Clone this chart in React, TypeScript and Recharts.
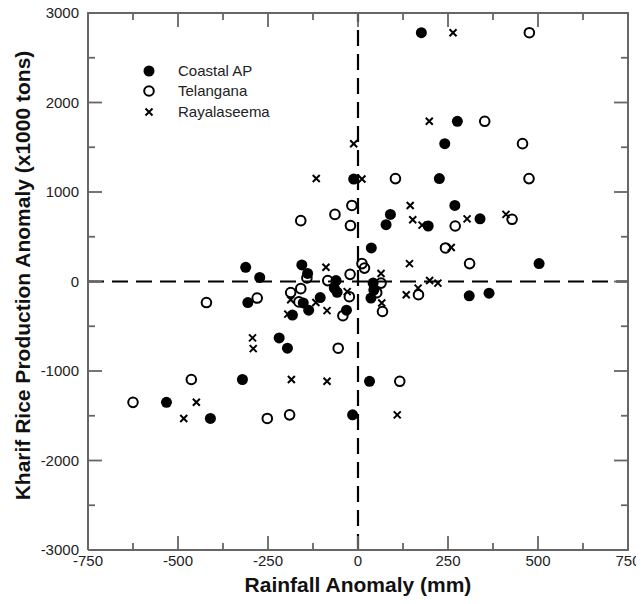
import React from 'react';
import { ScatterChart, Scatter, XAxis, YAxis, ReferenceLine, Legend } from 'recharts';

// [rainfall anomaly (mm), production anomaly (x1000 tons)]
const coastalAP = [
  [-12, 1145], [176, 2780], [276, 1790], [241, 1540], [226, 1150], [269, 850],
  [90, 750], [78, 635], [195, 620], [339, 700], [37, 375], [503, 200],
  [-312, 158], [-156, 185], [-140, 90], [-273, 45], [42, -18], [44, -95],
  [36, -185], [309, -160], [364, -130], [32, -1115], [-15, -1490], [-306, -235],
  [-152, -240], [-137, -320], [-182, -375], [-105, -180], [-61, 11], [-66, -74],
  [-58, -120], [-32, -320], [-219, -630], [-196, -745], [-321, -1095],
  [-532, -1350], [-410, -1530],
];
const telangana = [
  [476, 2780], [352, 1790], [457, 1540], [104, 1150], [475, 1150], [-159, 680],
  [-64, 750], [-17, 850], [-21, 625], [270, 620], [428, 695], [243, 375],
  [310, 200], [11, 200], [18, 150], [-22, 80], [-142, 40], [-84, 10],
  [64, -18], [52, -125], [68, -335], [168, -148], [-421, -235], [-280, -185],
  [-187, -123], [-159, -80], [-164, -228], [-24, -170], [-42, -382], [-55, -745],
  [116, -1115], [-463, -1095], [-625, -1350], [-252, -1530], [-190, -1490],
];
const rayalaseema = [
  [264, 2780], [198, 1790], [-12, 1540], [-116, 1150], [11, 1145], [145, 850],
  [152, 690], [178, 630], [303, 700], [411, 750], [259, 380], [143, 200],
  [-89, 160], [64, 90], [199, 11], [222, -18], [134, -148], [167, -74],
  [66, -241], [-30, -113], [-187, -204], [-117, -235], [-86, -325], [-195, -365],
  [-293, -630], [-291, -750], [-185, -1095], [-86, -1115], [109, -1490],
  [-449, -1350], [-484, -1530],
];

const xTicks = [-750, -625, -500, -375, -250, -125, 0, 125, 250, 375, 500, 625, 750];
const yTicks = [-3000, -2500, -2000, -1500, -1000, -500, 0, 500, 1000, 1500, 2000, 2500, 3000];
const X_DOMAIN = [-750, 750];
const Y_DOMAIN = [-3000, 3000];

const toPoints = (rows: number[][]) => rows.map(([x, y]) => ({ x, y }));

const FONT = '"Liberation Sans", Arial, sans-serif';
const FRAME = '#666666';
const MAJOR = 14;
const MINOR = 7;

const isMajorX = (v: number) => v % 250 === 0;
const isMajorY = (v: number) => v % 1000 === 0;

// positions of the inward tick marks on the four sides of the frame
const innerX = xTicks.slice(1, -1);
const innerY = yTicks.slice(1, -1);
const xMajor = innerX.filter(isMajorX);
const xMinor = innerX.filter((v) => !isMajorX(v));
const yMajor = innerY.filter(isMajorY);
const yMinor = innerY.filter((v) => !isMajorY(v));
const onBottom = (xs: number[]) => xs.map((x) => ({ x, y: Y_DOMAIN[0] }));
const onTop = (xs: number[]) => xs.map((x) => ({ x, y: Y_DOMAIN[1] }));
const onLeft = (ys: number[]) => ys.map((y) => ({ x: X_DOMAIN[0], y }));
const onRight = (ys: number[]) => ys.map((y) => ({ x: X_DOMAIN[1], y }));
const frameCorners = [
  { x: X_DOMAIN[0], y: Y_DOMAIN[0] },
  { x: X_DOMAIN[0], y: Y_DOMAIN[1] },
  { x: X_DOMAIN[1], y: Y_DOMAIN[1] },
  { x: X_DOMAIN[1], y: Y_DOMAIN[0] },
  { x: X_DOMAIN[0], y: Y_DOMAIN[0] },
];

const markStyle = { stroke: FRAME, strokeWidth: 1.8, fill: 'none' };
const UpMajor = ({ cx, cy }: any) => <path d={`M${cx},${cy}V${cy - MAJOR}`} {...markStyle} />;
const UpMinor = ({ cx, cy }: any) => <path d={`M${cx},${cy}V${cy - MINOR}`} {...markStyle} />;
const DownMajor = ({ cx, cy }: any) => <path d={`M${cx},${cy}V${cy + MAJOR}`} {...markStyle} />;
const DownMinor = ({ cx, cy }: any) => <path d={`M${cx},${cy}V${cy + MINOR}`} {...markStyle} />;
const RightMajor = ({ cx, cy }: any) => <path d={`M${cx},${cy}H${cx + MAJOR}`} {...markStyle} />;
const RightMinor = ({ cx, cy }: any) => <path d={`M${cx},${cy}H${cx + MINOR}`} {...markStyle} />;
const LeftMajor = ({ cx, cy }: any) => <path d={`M${cx},${cy}H${cx - MAJOR}`} {...markStyle} />;
const LeftMinor = ({ cx, cy }: any) => <path d={`M${cx},${cy}H${cx - MINOR}`} {...markStyle} />;
const NoDot = () => <g />;

const tickSeries = [
  { name: 'tick-bottom-major', data: onBottom(xMajor), shape: UpMajor },
  { name: 'tick-bottom-minor', data: onBottom(xMinor), shape: UpMinor },
  { name: 'tick-top-major', data: onTop(xMajor), shape: DownMajor },
  { name: 'tick-top-minor', data: onTop(xMinor), shape: DownMinor },
  { name: 'tick-left-major', data: onLeft(yMajor), shape: RightMajor },
  { name: 'tick-left-minor', data: onLeft(yMinor), shape: RightMinor },
  { name: 'tick-right-major', data: onRight(yMajor), shape: LeftMajor },
  { name: 'tick-right-minor', data: onRight(yMinor), shape: LeftMinor },
];

const BottomLabel = ({ x, y, payload }: any) =>
  isMajorX(payload.value) ? (
    <text x={x} y={y + 16} textAnchor="middle" fontSize={15} fontFamily={FONT} fill="#222">
      {payload.value}
    </text>
  ) : null;

const LeftLabel = ({ x, y, payload }: any) =>
  isMajorY(payload.value) ? (
    <text x={x - 9} y={y + 5} textAnchor="end" fontSize={15} fontFamily={FONT} fill="#222">
      {payload.value}
    </text>
  ) : null;

const FilledDot = ({ cx, cy }: any) => <circle cx={cx} cy={cy} r={5.5} fill="#000" />;
const OpenDot = ({ cx, cy }: any) => <circle cx={cx} cy={cy} r={4.8} fill="none" stroke="#000" strokeWidth={2} />;
const Cross = ({ cx, cy }: any) => (
  <path d={`M${cx - 3.5},${cy - 3.5}L${cx + 3.5},${cy + 3.5}M${cx - 3.5},${cy + 3.5}L${cx + 3.5},${cy - 3.5}`} stroke="#000" strokeWidth={2} />
);

const legendRows = [
  { name: 'Coastal AP', Shape: FilledDot, cy: 11 },
  { name: 'Telangana', Shape: OpenDot, cy: 31 },
  { name: 'Rayalaseema', Shape: Cross, cy: 52 },
];

const LegendBox = () => (
  <svg width={140} height={64}>
    {legendRows.map(({ name, Shape, cy }) => (
      <g key={name}>
        <Shape cx={8} cy={cy} />
        <text x={37} y={cy + 5} fontSize={15} fontFamily={FONT} fill="#222">
          {name}
        </text>
      </g>
    ))}
  </svg>
);

export default function App() {
  return (
    <div style={{ fontFamily: FONT, margin: '-8px 0 0 -8px' }}>
      <ScatterChart width={644} height={604} margin={{ top: 13, right: 16, bottom: 0, left: 0 }}>
        <XAxis
          type="number"
          dataKey="x"
          domain={X_DOMAIN}
          ticks={xTicks}
          interval={0}
          tickSize={0}
          tickMargin={0}
          height={54}
          axisLine={false}
          tickLine={false}
          tick={<BottomLabel />}
          label={{
            value: 'Rainfall Anomaly (mm)',
            position: 'insideBottom',
            offset: 12,
            style: { fontSize: 21, fontWeight: 'bold', fill: '#111', fontFamily: FONT },
          }}
        />
        <YAxis
          type="number"
          dataKey="y"
          domain={Y_DOMAIN}
          ticks={yTicks}
          interval={0}
          tickSize={0}
          tickMargin={0}
          width={88}
          axisLine={false}
          tickLine={false}
          tick={<LeftLabel />}
          label={({ viewBox }: any) => (
            <text
              x={22}
              y={viewBox.y + viewBox.height / 2 - 6}
              transform={`rotate(-90, 22, ${viewBox.y + viewBox.height / 2 - 6})`}
              textAnchor="middle"
              dominantBaseline="central"
              fontSize={21}
              fontWeight="bold"
              fontFamily={FONT}
              fill="#111"
            >
              Kharif Rice Production Anomaly (x1000 tons)
            </text>
          )}
        />
        <ReferenceLine x={X_DOMAIN[0]} stroke={FRAME} strokeWidth={1.8} />
        <ReferenceLine x={X_DOMAIN[1]} stroke={FRAME} strokeWidth={1.8} ifOverflow="visible" />
        <ReferenceLine y={Y_DOMAIN[0]} stroke={FRAME} strokeWidth={1.8} ifOverflow="visible" />
        <ReferenceLine y={Y_DOMAIN[1]} stroke={FRAME} strokeWidth={1.8} ifOverflow="visible" />
        <ReferenceLine x={0} stroke="#000" strokeWidth={2.2} strokeDasharray="16 8" />
        <ReferenceLine y={0} stroke="#000" strokeWidth={2.2} strokeDasharray="16 8" />
        <Scatter
          name="frame"
          data={frameCorners}
          line={{ stroke: FRAME, strokeWidth: 1.8 }}
          shape={NoDot}
          legendType="none"
          isAnimationActive={false}
        />
        {tickSeries.map((s) => (
          <Scatter key={s.name} name={s.name} data={s.data} shape={s.shape} legendType="none" isAnimationActive={false} />
        ))}
        <Scatter name="Coastal AP" data={toPoints(coastalAP)} shape={FilledDot} isAnimationActive={false} />
        <Scatter name="Telangana" data={toPoints(telangana)} shape={OpenDot} isAnimationActive={false} />
        <Scatter name="Rayalaseema" data={toPoints(rayalaseema)} shape={Cross} isAnimationActive={false} />
        <Legend
          layout="vertical"
          align="center"
          verticalAlign="middle"
          content={<LegendBox />}
          wrapperStyle={{ position: 'absolute', left: 141, top: 60, width: 140 }}
        />
      </ScatterChart>
    </div>
  );
}
